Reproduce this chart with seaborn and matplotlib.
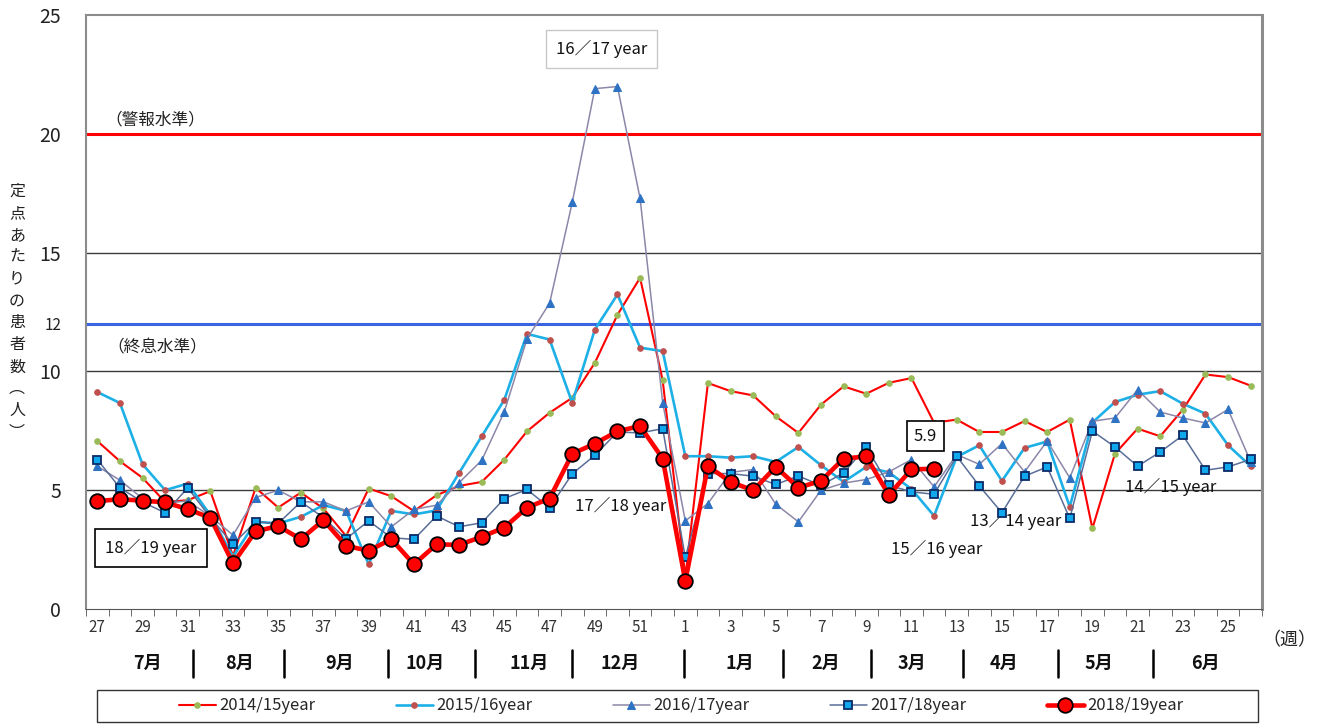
import numpy as np
import pandas as pd
import seaborn as sns
import matplotlib.pyplot as plt
from matplotlib.transforms import blended_transform_factory
from matplotlib.patches import Rectangle

# week numbers on the x axis (season runs from week 27 to week 26)
weeks = list(range(27, 53)) + list(range(1, 27))

# patients per sentinel site
s1415 = [7.07, 6.22, 5.52, 4.50, 4.58, 4.96, 2.23, 5.10, 4.27, 4.90, 4.23, 3.07, 5.07,
         4.75, 4.12, 4.79, 5.18, 5.35, 6.29, 7.48, 8.26, 8.89, 10.36, 12.38, 13.94, 9.62,
         1.35, 9.51, 9.17, 8.99, 8.11, 7.41, 8.60, 9.37, 9.06, 9.52, 9.72, 7.84, 7.97,
         7.45, 7.45, 7.91, 7.45, 7.97, 3.39, 6.54, 7.59, 7.27, 8.39, 9.87, 9.76, 9.40]
s1516 = [9.13, 8.67, 6.09, 5.00, 5.28, 3.95, 2.20, 3.67, 3.60, 3.88, 4.37, 4.13, 1.88,
         4.13, 3.98, 4.15, 5.73, 7.27, 8.81, 11.58, 11.34, 8.68, 11.76, 13.24, 11.00, 10.85,
         6.43, 6.43, 6.37, 6.43, 6.19, 6.82, 6.05, 5.35, 5.98, 5.75, 5.05, 3.92, 6.40,
         6.89, 5.39, 6.78, 7.05, 4.30, 7.85, 8.71, 9.02, 9.17, 8.64, 8.22, 6.89, 6.01]
s1617 = [6.01, 5.42, 4.65, 4.45, 4.55, 3.90, 3.11, 4.69, 5.00, 4.51, 4.51, 4.13, 4.51,
         3.46, 4.19, 4.37, 5.32, 6.26, 8.31, 11.37, 12.87, 17.11, 21.90, 21.99, 17.28, 8.68,
         3.71, 4.44, 5.75, 5.87, 4.41, 3.67, 5.00, 5.30, 5.45, 5.77, 6.29, 5.14, 6.50,
         6.09, 6.96, 5.77, 7.07, 5.52, 7.90, 8.04, 9.23, 8.29, 8.04, 7.83, 8.40, 6.20]
s1718 = [6.29, 5.10, 4.50, 4.05, 5.10, 3.85, 2.73, 3.67, 3.60, 4.51, 3.85, 2.95, 3.71,
         3.00, 2.93, 3.92, 3.46, 3.63, 4.65, 5.03, 4.26, 5.69, 6.47, 7.45, 7.41, 7.59,
         2.17, 5.70, 5.70, 5.59, 5.24, 5.60, 5.20, 5.73, 6.82, 5.21, 4.93, 4.83, 6.43,
         5.18, 4.05, 5.59, 5.98, 3.81, 7.49, 6.82, 6.01, 6.61, 7.31, 5.84, 5.98, 6.30]
s1819 = [4.54, 4.62, 4.56, 4.49, 4.20, 3.84, 1.92, 3.27, 3.49, 2.94, 3.74, 2.66, 2.45,
         2.94, 1.88, 2.72, 2.70, 3.04, 3.43, 4.27, 4.65, 6.53, 6.96, 7.48, 7.70, 6.33,
         1.18, 6.01, 5.35, 4.99, 5.98, 5.11, 5.39, 6.33, 6.42, 4.80, 5.88, 5.90] + [np.nan] * 14

months = ['7月', '8月', '9月', '10月', '11月', '12月', '1月', '2月', '3月', '4月', '5月', '6月']
yticks = [0, 5, 10, 12, 15, 20, 25]

df = pd.DataFrame({'pos': np.arange(len(weeks)), 'week': weeks,
                   '2014/15year': s1415, '2015/16year': s1516, '2016/17year': s1617,
                   '2017/18year': s1718, '2018/19year': s1819})

sns.set_style("white")
plt.rcParams['font.family'] = ['Noto Sans CJK JP', 'DejaVu Sans']

W, H = 1322, 725
fig = plt.figure(figsize=(W / 100, H / 100), dpi=100)
ax = fig.add_axes([86 / W, 1 - 609 / H, (1262 - 86) / W, (609 - 15) / H])

# reference lines
for v in [5, 10, 15]:
    ax.axhline(v, color='#3a3a3a', lw=1, zorder=1)
ax.axhline(20, color='#ff0000', lw=2.2, zorder=1)
ax.axhline(12, color='#3a64e0', lw=2.2, zorder=1)

sns.lineplot(data=df, x='pos', y='2014/15year', ax=ax, color='#ff0000', lw=1.5,
             marker='o', markersize=4, markerfacecolor='#9bbb59', markeredgecolor='#9bbb59',
             label='2014/15year', zorder=3)
sns.lineplot(data=df, x='pos', y='2015/16year', ax=ax, color='#1cb0e6', lw=1.9,
             marker='o', markersize=4, markerfacecolor='#c0504d', markeredgecolor='#c0504d',
             label='2015/16year', zorder=3)
sns.lineplot(data=df, x='pos', y='2016/17year', ax=ax, color='#8c86a8', lw=1.1,
             marker='^', markersize=6, markerfacecolor='#2e72c4', markeredgecolor='#2e72c4',
             label='2016/17year', zorder=3)
sns.lineplot(data=df, x='pos', y='2017/18year', ax=ax, color='#5a6e98', lw=1.1,
             marker='s', markersize=5.5, markerfacecolor='#10a8ec', markeredgecolor='#0b2a66',
             markeredgewidth=1.3, label='2017/18year', zorder=4)
sns.lineplot(data=df.dropna(subset=['2018/19year']), x='pos', y='2018/19year', ax=ax,
             color='#ff0000', lw=3.3, marker='o', markersize=10.5, markerfacecolor='#ff0000',
             markeredgecolor='black', markeredgewidth=1.3, label='2018/19year', zorder=5)

handles, labels = ax.get_legend_handles_labels()
ax.get_legend().remove()

ax.set_xlim(-0.5, 51.5)
ax.set_ylim(0, 25)
ax.set_xlabel('')
ax.set_ylabel('')

# x ticks: labels every other week, marks at category boundaries
ax.set_xticks(df['pos'][::2])
ax.set_xticklabels(df['week'][::2], fontsize=11, color='#333333')
ax.set_xticks(np.arange(-0.5, 52, 1), minor=True)
ax.tick_params(axis='x', which='major', length=0, pad=7)
ax.tick_params(axis='x', which='minor', length=5, color='#555555', direction='out', bottom=True)

ax.set_yticks(yticks)
ax.set_yticklabels([str(t) for t in yticks])
for t, lab in zip(yticks, ax.get_yticklabels()):
    lab.set_fontsize(11 if t == 12 else 14)
    lab.set_color('#222222')
ax.tick_params(axis='y', length=0, pad=18)

for side in ['left', 'top']:
    ax.spines[side].set_color('#8c8c8c')
    ax.spines[side].set_linewidth(1.5)
ax.spines['right'].set_color('#8c8c8c')
ax.spines['right'].set_linewidth(2.2)
ax.spines['bottom'].set_color('#555555')

# month row under the week numbers
trans = blended_transform_factory(ax.transData, ax.transAxes)
month_pos = [2.2, 6.3, 10.7, 14.5, 19.1, 23.1, 28.4, 32.2, 36.0, 40.1, 44.3, 49.0]
sep_pos = [4.23, 8.26, 12.86, 16.7, 21.0, 25.96, 30.3, 34.2, 38.3, 42.5, 46.7]
for m, x in zip(months, month_pos):
    ax.text(x, -0.091, m, transform=trans, ha='center', va='center',
            fontsize=13, fontweight='bold', color='#111111')
for x in sep_pos:
    ax.plot([x, x], [-0.069, -0.114], transform=trans, color='black', lw=1.8, clip_on=False)

fig.text(1289 / W, 1 - 640 / H, '（週）', ha='center', va='center', fontsize=13, color='#222222')

# vertical y label
ylab = '定点あたりの患者数︵人︶'
fig.text(17 / W, 1 - 312 / H, '\n'.join(ylab), ha='center', va='center',
         fontsize=11.5, linespacing=1.38, color='#222222')

# level labels and series annotations
ax.text(0.35, 20.6, '（警報水準）', fontsize=12, va='center', ha='left', color='#222222')
ax.text(0.45, 11.0, '（終息水準）', fontsize=12, va='center', ha='left', color='#222222')
ax.text(22.3, 23.57, '16／17 year', fontsize=12, ha='center', va='center', color='#111111',
        bbox=dict(boxstyle='square,pad=0.6', fc='white', ec='#c8c8c8', lw=1))
ax.text(2.38, 2.56, '18／19 year', fontsize=12, ha='center', va='center', color='#111111',
        bbox=dict(boxstyle='square,pad=0.6', fc='white', ec='black', lw=1.2))
ax.text(36.62, 7.27, '5.9', fontsize=12, ha='center', va='center', color='#111111',
        bbox=dict(boxstyle='square,pad=0.4', fc='white', ec='black', lw=1.2), zorder=6)
ax.text(23.13, 4.33, '17／18 year', fontsize=12, ha='center', va='center', color='#111111')
ax.text(37.1, 2.52, '15／16 year', fontsize=12, ha='center', va='center', color='#111111')
ax.text(40.6, 3.70, '13／14 year', fontsize=12, ha='center', va='center', color='#111111')
ax.text(47.47, 5.13, '14／15 year', fontsize=12, ha='center', va='center', color='#111111')

# legend in a box below the month row
fig.patches.append(Rectangle((97 / W, 3 / H), (1258 - 97) / W, (722 - 690) / H,
                             transform=fig.transFigure, fill=False, ec='#333333', lw=1))
fig.legend(handles, labels, loc='center', bbox_to_anchor=(681 / W, 1 - 706 / H), ncol=5,
           frameon=False, fontsize=12, handlelength=2.2, handletextpad=0.2, columnspacing=4.85)

plt.savefig('out.png', dpi=100)
